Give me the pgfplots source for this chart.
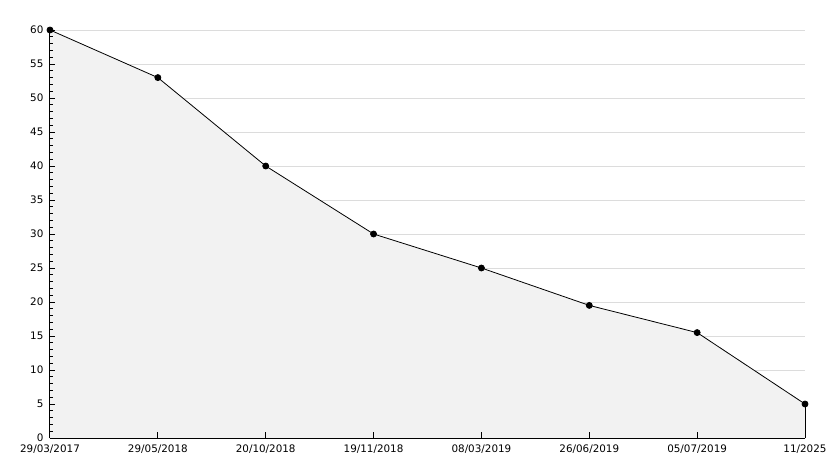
\documentclass[border=0pt]{standalone}
\usepackage{pgfplots}
\pgfplotsset{compat=1.18}
\usepackage{fontspec}
\setmainfont{DejaVu Sans}
\definecolor{fillgray}{RGB}{242,242,242}
\definecolor{gridgray}{RGB}{220,220,220}
\begin{document}
\fontsize{10.4}{12}\selectfont
\begin{tikzpicture}
\path[use as bounding box] (-50bp,-30bp) rectangle (784bp,438bp);
\begin{axis}[
  axis on top,
  at={(0,0)}, anchor=south west,
  scale only axis, width=755bp, height=408bp,
  xmin=0, xmax=7, ymin=0, ymax=60,
  axis x line=bottom, axis y line=left,
  axis line style={-, black, line width=1bp},
  xtick={0,...,7},
  xticklabels={29/03/2017,29/05/2018,20/10/2018,19/11/2018,08/03/2019,26/06/2019,05/07/2019,11/2025},
  ytick={0,5,...,60},
  minor y tick num=4,
  tick align=inside,
  major tick length=5.5bp, minor tick length=3.5bp,
  tick style={black, line width=1bp},
  /pgf/number format/assume math mode=true,
  tick label style={font=\fontsize{10.4}{12}\selectfont},
  yticklabel style={xshift=-3bp},
  xticklabel style={yshift=-3bp},
  clip=false,
]
\pgfplotsinvokeforeach{5,10,15,20,25,30,35,40,45,50,55,60}{
  \draw[gridgray, line width=0.8bp] (axis cs:0,#1) -- (axis cs:7,#1);
}
\addplot[fill=fillgray, draw=none] coordinates {
(0,60) (1,53) (2,40) (3,30) (4,25) (5,19.5) (6,15.5) (7,5)
} \closedcycle;
\draw[black, line width=1bp] (axis cs:7,0) -- (axis cs:7,5);
\addplot[black, line width=0.8bp, mark=*, mark size=3bp, mark options={fill=black}] coordinates {
(0,60) (1,53) (2,40) (3,30) (4,25) (5,19.5) (6,15.5) (7,5)
};
\end{axis}
\end{tikzpicture}
\end{document}
